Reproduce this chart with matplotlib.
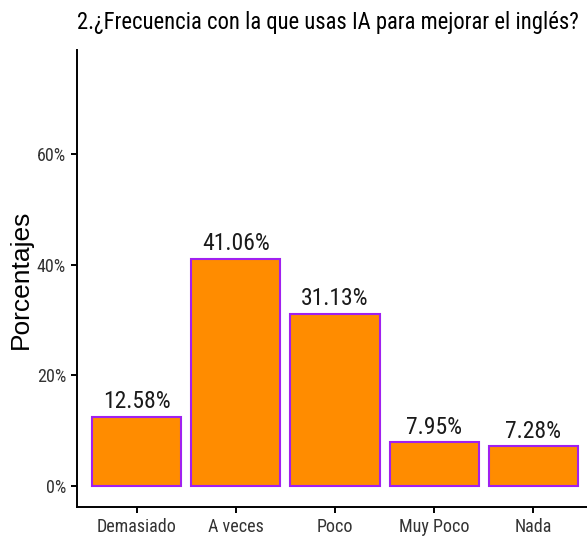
import matplotlib
matplotlib.use('Agg')
import matplotlib.pyplot as plt
from matplotlib.ticker import PercentFormatter

# datos de la encuesta
categorias = ['Demasiado', 'A veces', 'Poco', 'Muy Poco', 'Nada']
porcentajes = [12.58, 41.06, 31.13, 7.95, 7.28]
y_ticks = [0, 20, 40, 60]

narrow = ['Roboto Condensed', 'DejaVu Sans']

fig = plt.figure(figsize=(5.87, 5.40), dpi=100)
# el eje se sale un poco por la derecha, como en la imagen original
ax = fig.add_axes([77 / 587, 33 / 540, 516 / 587, 457 / 540])

x = range(len(categorias))
ax.bar(x, porcentajes, width=0.9, color='#FF8C00', edgecolor='#A020F0', linewidth=1.5)

for i, v in enumerate(porcentajes):
    ax.text(i, v + 0.6, f'{v:.2f}%', ha='center', va='bottom', fontsize=17, family=narrow, color='#1a1a1a')

ax.set_xlim(-0.6, len(categorias) - 0.4)
ax.set_ylim(-3.75, 78.75)
ax.set_yticks(y_ticks)
ax.yaxis.set_major_formatter(PercentFormatter(decimals=0))
ax.set_xticks(list(x))
ax.set_xticklabels(categorias)

for lab in ax.get_xticklabels() + ax.get_yticklabels():
    lab.set_family(narrow)
    lab.set_fontsize(13)
    lab.set_color('#333333')

ax.spines['top'].set_visible(False)
ax.spines['right'].set_visible(False)
ax.spines['left'].set_linewidth(1.4)
ax.spines['bottom'].set_linewidth(1.4)
ax.tick_params(length=4, width=1.4, pad=4)

fig.text(21 / 587, 1 - 279 / 540, 'Porcentajes', rotation=90, ha='center', va='center',
         fontsize=19, family='Liberation Sans')
fig.text(77 / 587, 1 - 22 / 540, '2.¿Frecuencia con la que usas IA para mejorar el inglés?',
         ha='left', va='center', fontsize=16.3, family=narrow)

fig.savefig('out.png', dpi=100)
